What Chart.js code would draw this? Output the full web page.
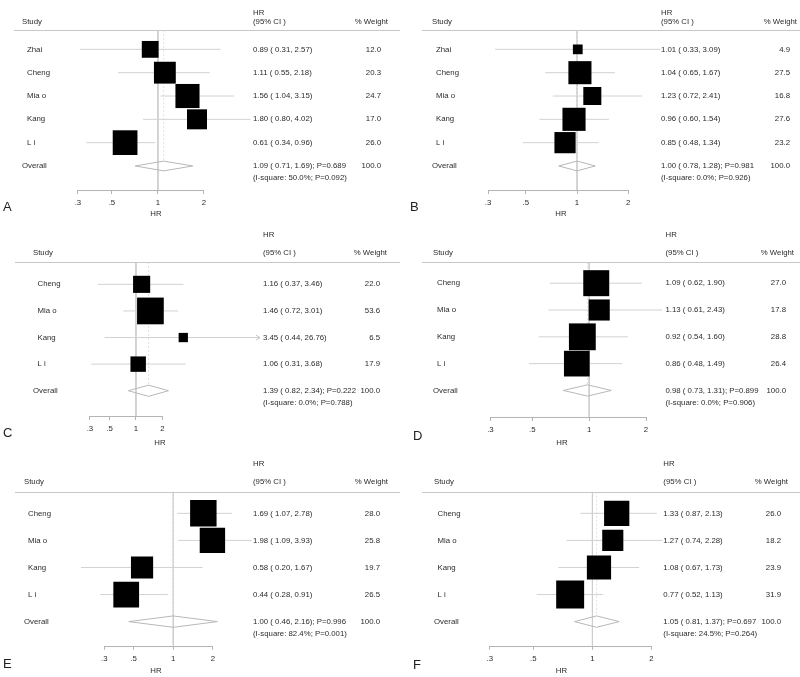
<!DOCTYPE html>
<html>
<head>
<meta charset="utf-8">
<title>Forest plots</title>
<script src="https://cdn.jsdelivr.net/npm/chart.js@4.4.0/dist/chart.umd.min.js"></script>
<style>
  body { margin: 0; background: #fff; }
  #wrap { position: relative; width: 800px; height: 677px; overflow: hidden; }
  #wrap canvas { position: absolute; }
</style>
</head>
<body>
<div id="wrap">
  <canvas id="chartA" width="400" height="220" style="left:0;top:0"></canvas>
  <canvas id="chartB" width="400" height="220" style="left:400px;top:0"></canvas>
  <canvas id="chartC" width="400" height="229" style="left:0;top:220px"></canvas>
  <canvas id="chartD" width="400" height="229" style="left:400px;top:220px"></canvas>
  <canvas id="chartE" width="400" height="228" style="left:0;top:449px"></canvas>
  <canvas id="chartF" width="400" height="228" style="left:400px;top:449px"></canvas>
</div>
<script>
// x axis ticks, same on every panel
const tickValues = [0.3, 0.5, 1, 2];
const tickLabels = [".3", ".5", "1", "2"];

// Panel A
const studiesA = ["Zhai", "Cheng", "Mia o", "Kang", "L i"];
const hrA = [0.89, 1.11, 1.56, 1.80, 0.61];
const lowA = [0.31, 0.55, 1.04, 0.80, 0.34];
const highA = [2.57, 2.18, 3.15, 4.02, 0.96];
const weightA = [12.0, 20.3, 24.7, 17.0, 26.0];
const overallA = [1.09, 0.71, 1.69];      // HR, lower, upper
const statsA = [0.689, 50.0, 0.092];      // P, I-square %, P heterogeneity

// Panel B
const studiesB = ["Zhai", "Cheng", "Mia o", "Kang", "L i"];
const hrB = [1.01, 1.04, 1.23, 0.96, 0.85];
const lowB = [0.33, 0.65, 0.72, 0.60, 0.48];
const highB = [3.09, 1.67, 2.41, 1.54, 1.34];
const weightB = [4.9, 27.5, 16.8, 27.6, 23.2];
const overallB = [1.00, 0.78, 1.28];
const statsB = [0.981, 0.0, 0.926];

// Panel C
const studiesC = ["Cheng", "Mia o", "Kang", "L i"];
const hrC = [1.16, 1.46, 3.45, 1.06];
const lowC = [0.37, 0.72, 0.44, 0.31];
const highC = [3.46, 3.01, 26.76, 3.68];
const weightC = [22.0, 53.6, 6.5, 17.9];
const overallC = [1.39, 0.82, 2.34];
const statsC = [0.222, 0.0, 0.788];

// Panel D
const studiesD = ["Cheng", "Mia o", "Kang", "L i"];
const hrD = [1.09, 1.13, 0.92, 0.86];
const lowD = [0.62, 0.61, 0.54, 0.48];
const highD = [1.90, 2.43, 1.60, 1.49];
const weightD = [27.0, 17.8, 28.8, 26.4];
const overallD = [0.98, 0.73, 1.31];
const statsD = [0.899, 0.0, 0.906];

// Panel E
const studiesE = ["Cheng", "Mia o", "Kang", "L i"];
const hrE = [1.69, 1.98, 0.58, 0.44];
const lowE = [1.07, 1.09, 0.20, 0.28];
const highE = [2.78, 3.93, 1.67, 0.91];
const weightE = [28.0, 25.8, 19.7, 26.5];
const overallE = [1.00, 0.46, 2.16];
const statsE = [0.996, 82.4, 0.001];

// Panel F
const studiesF = ["Cheng", "Mia o", "Kang", "L i"];
const hrF = [1.33, 1.27, 1.08, 0.77];
const lowF = [0.87, 0.74, 0.67, 0.52];
const highF = [2.13, 2.28, 1.73, 1.13];
const weightF = [26.0, 18.2, 23.9, 31.9];
const overallF = [1.05, 0.81, 1.37];
const statsF = [0.697, 24.5, 0.264];

Chart.defaults.font.family = '"Liberation Sans", Arial, sans-serif';
Chart.defaults.color = '#2b2b2b';

const FONT = '7.8px "Liberation Sans", Arial, sans-serif';
const TEXT = '#2b2b2b';

function makePanel(id, p, look) {
  const n = p.studies.length;
  const [est, lo, hi] = p.overall;
  const dh = 0.21; // diamond half height, in rows

  const datasets = [];
  // study boxes, area proportional to weight
  datasets.push({
    data: p.hr.map((v, i) => ({ x: v, y: i })),
    pointStyle: 'rect',
    pointRadius: p.weight.map(w => look.box * Math.sqrt(w) / Math.SQRT2),
    backgroundColor: '#000',
    borderWidth: 0,
    showLine: false
  });
  // confidence intervals
  p.studies.forEach((s, i) => {
    datasets.push({
      data: [{ x: p.low[i], y: i }, { x: p.high[i], y: i }],
      showLine: true, borderColor: '#d2d2d2', borderWidth: 1, pointRadius: 0
    });
  });
  // pooled diamond
  datasets.push({
    data: [{ x: lo, y: n }, { x: est, y: n - dh }, { x: hi, y: n }, { x: est, y: n + dh }, { x: lo, y: n }],
    showLine: true, borderColor: '#b8b8b8', borderWidth: 1, pointRadius: 0
  });
  // pooled estimate line
  datasets.push({
    data: [{ x: est, y: look.yMin }, { x: est, y: n - dh }],
    showLine: true, borderColor: '#e2e2e2', borderWidth: 1, borderDash: [2, 2], pointRadius: 0
  });
  // line of no effect
  datasets.push({
    data: [{ x: 1, y: look.yMin }, { x: 1, y: look.yMax }],
    showLine: true, borderColor: '#cdcdcd', borderWidth: 1, pointRadius: 0
  });

  const forestText = {
    id: 'forestText',
    afterDraw(chart) {
      const { ctx, chartArea } = chart;
      const x = chart.scales.x, y = chart.scales.y;
      ctx.save();
      ctx.lineWidth = 1;

      // header rule
      const ry = Math.round(chartArea.top) + 0.5;
      ctx.strokeStyle = '#c8c8c8';
      ctx.beginPath(); ctx.moveTo(look.sepLeft, ry); ctx.lineTo(chart.width, ry); ctx.stroke();

      // axis line between first and last tick
      const ay = Math.round(chartArea.bottom) + 0.5;
      ctx.strokeStyle = '#b4b4b4';
      ctx.beginPath();
      ctx.moveTo(x.getPixelForValue(tickValues[0]), ay);
      ctx.lineTo(x.getPixelForValue(tickValues[tickValues.length - 1]), ay);
      ctx.stroke();

      // arrows where a CI runs off the plot
      ctx.strokeStyle = '#c4c4c4';
      p.high.forEach((h, i) => {
        if (h > x.max) {
          const yy = y.getPixelForValue(i), xr = chartArea.right;
          ctx.beginPath();
          ctx.moveTo(xr - 4, yy - 2.5); ctx.lineTo(xr, yy); ctx.lineTo(xr - 4, yy + 2.5);
          ctx.stroke();
        }
      });

      ctx.fillStyle = TEXT;
      ctx.font = FONT;
      ctx.textBaseline = 'middle';
      ctx.textAlign = 'left';
      ctx.fillText('HR', look.hrX, look.hrHdrY);
      ctx.fillText('(95% CI )', look.hrX, look.hdrY);
      ctx.fillText('Study', look.studyX, look.hdrY);
      ctx.textAlign = 'right';
      ctx.fillText('% Weight', look.wHdrRight, look.hdrY);

      p.studies.forEach((s, i) => {
        const yy = y.getPixelForValue(i);
        ctx.textAlign = 'left';
        ctx.fillText(s, look.nameX, yy);
        ctx.fillText(p.hr[i].toFixed(2) + ' ( ' + p.low[i].toFixed(2) + ', ' + p.high[i].toFixed(2) + ')', look.hrX, yy);
        ctx.textAlign = 'right';
        ctx.fillText(p.weight[i].toFixed(1), look.wRight, yy);
      });

      const oy = y.getPixelForValue(n);
      ctx.textAlign = 'left';
      ctx.fillText('Overall', look.studyX, oy);
      ctx.fillText(est.toFixed(2) + ' ( ' + lo.toFixed(2) + ', ' + hi.toFixed(2) + '); P=' + p.stats[0].toFixed(3), look.hrX, oy);
      ctx.fillText('(I-square: ' + p.stats[1].toFixed(1) + '%; P=' + p.stats[2].toFixed(3) + ')', look.hrX, oy + 12);
      ctx.textAlign = 'right';
      ctx.fillText((100).toFixed(1), look.wRight, oy);

      // panel letter
      ctx.textAlign = 'left';
      ctx.textBaseline = 'alphabetic';
      ctx.font = '13px "Liberation Sans", Arial, sans-serif';
      ctx.fillStyle = '#222';
      ctx.fillText(look.letter, look.letterX, look.letterY);
      ctx.restore();
    }
  };

  const canvas = document.getElementById(id);
  new Chart(canvas.getContext('2d'), {
    type: 'scatter',
    data: { datasets: datasets },
    options: {
      responsive: false,
      animation: false,
      devicePixelRatio: 1,
      events: [],
      layout: { padding: { left: look.padLeft, right: look.padRight, top: look.sepY, bottom: 0 } },
      plugins: { legend: { display: false }, tooltip: { enabled: false } },
      scales: {
        x: {
          type: 'logarithmic',
          position: 'bottom',
          min: look.xMin,
          max: look.xMax,
          border: { display: false },
          grid: { display: true, drawOnChartArea: false, drawTicks: true, tickLength: 4, color: '#b4b4b4' },
          afterBuildTicks: scale => { scale.ticks = tickValues.map(v => ({ value: v })); },
          afterFit: scale => { scale.height = canvas.height - look.axisY; },
          ticks: {
            autoSkip: false, maxRotation: 0, padding: 4,
            font: { size: 7.8 }, color: TEXT,
            callback: v => tickLabels[tickValues.indexOf(v)]
          },
          title: { display: true, text: 'HR', font: { size: 7.8 }, color: TEXT, padding: { top: 0, bottom: 1 } }
        },
        y: { type: 'linear', reverse: true, min: look.yMin, max: look.yMax, display: false }
      }
    },
    plugins: [forestText]
  });
}

makePanel('chartA',
  { studies: studiesA, hr: hrA, low: lowA, high: highA, weight: weightA, overall: overallA, stats: statsA },
  { padLeft: 60, padRight: 148, xMin: 0.229, xMax: 4.12, sepY: 30, axisY: 190, yMin: -0.83, yMax: 6.03,
    hrHdrY: 13, hdrY: 22, studyX: 22, nameX: 27, hrX: 253, wRight: 381, wHdrRight: 388, sepLeft: 14,
    box: 4.85, letter: 'A', letterX: 3, letterY: 211 });

makePanel('chartB',
  { studies: studiesB, hr: hrB, low: lowB, high: highB, weight: weightB, overall: overallB, stats: statsB },
  { padLeft: 60, padRight: 138, xMin: 0.205, xMax: 3.16, sepY: 30, axisY: 190, yMin: -0.83, yMax: 6.03,
    hrHdrY: 13, hdrY: 22, studyX: 32, nameX: 36, hrX: 261, wRight: 390, wHdrRight: 397, sepLeft: 22,
    box: 4.4, letter: 'B', letterX: 10, letterY: 211 });

makePanel('chartC',
  { studies: studiesC, hr: hrC, low: lowC, high: highC, weight: weightC, overall: overallC, stats: statsC },
  { padLeft: 60, padRight: 140, xMin: 0.137, xMax: 25.7, sepY: 42, axisY: 196, yMin: -0.84, yMax: 4.95,
    hrHdrY: 15, hdrY: 32.5, studyX: 33, nameX: 37.5, hrX: 263, wRight: 380, wHdrRight: 387, sepLeft: 15,
    box: 3.65, letter: 'C', letterX: 3, letterY: 217 });

makePanel('chartD',
  { studies: studiesD, hr: hrD, low: lowD, high: highD, weight: weightD, overall: overallD, stats: statsD },
  { padLeft: 60, padRight: 136, xMin: 0.207, xMax: 2.49, sepY: 42, axisY: 197, yMin: -0.79, yMax: 4.99,
    hrHdrY: 15, hdrY: 32.5, studyX: 33, nameX: 37, hrX: 265.5, wRight: 386, wHdrRight: 394, sepLeft: 22,
    box: 5.0, letter: 'D', letterX: 13, letterY: 220 });

makePanel('chartE',
  { studies: studiesE, hr: hrE, low: lowE, high: highE, weight: weightE, overall: overallE, stats: statsE },
  { padLeft: 60, padRight: 148, xMin: 0.1386, xMax: 3.95, sepY: 42.7, axisY: 196.7, yMin: -0.8, yMax: 4.89,
    hrHdrY: 15, hdrY: 33.3, studyX: 24, nameX: 28, hrX: 253, wRight: 380, wHdrRight: 388, sepLeft: 15,
    box: 5.0, letter: 'E', letterX: 3, letterY: 219 });

makePanel('chartF',
  { studies: studiesF, hr: hrF, low: lowF, high: highF, weight: weightF, overall: overallF, stats: statsF },
  { padLeft: 60, padRight: 137, xMin: 0.2113, xMax: 2.29, sepY: 42.7, axisY: 196.7, yMin: -0.8, yMax: 4.89,
    hrHdrY: 15, hdrY: 33.3, studyX: 34, nameX: 37.5, hrX: 263.3, wRight: 381, wHdrRight: 388, sepLeft: 22,
    box: 4.95, letter: 'F', letterX: 13, letterY: 220 });
</script>
</body>
</html>
